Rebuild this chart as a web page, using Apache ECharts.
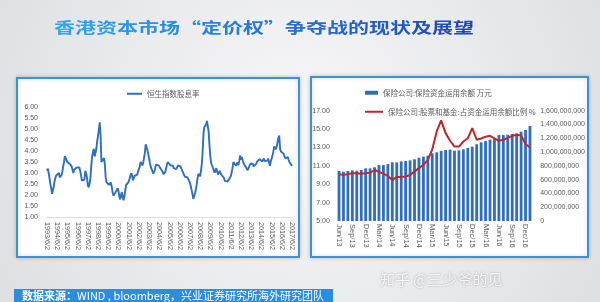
<!DOCTYPE html>
<html><head><meta charset="utf-8">
<script src="https://cdn.jsdelivr.net/npm/echarts@6/dist/echarts.min.js"></script>
<style>html,body{margin:0;padding:0;width:600px;height:302px;overflow:hidden}#c{width:600px;height:302px}</style>
</head><body><div id="c"></div><script>
// 恒生指数股息率 (%), monthly, 1993/6 – 2017/6
const hsiYield = [
  3.1, 3.2, 3.0, 2.75, 2.5, 2.3, 2.05, 2.1, 2.4, 2.65,
  2.8, 2.9, 2.85, 2.85, 3.0, 2.8, 2.8, 2.9, 3.05, 3.3,
  3.5, 3.77, 3.67, 3.75, 3.5, 3.45, 3.45, 3.4, 3.35, 3.3,
  3.15, 3.0, 3.15, 3.17, 3.2, 3.25, 3.27, 3.3, 3.25, 3.1,
  2.9, 2.65, 2.6, 2.6, 2.7, 3.1, 3.0, 2.8, 2.45, 2.35,
  2.5, 2.75, 3.3, 3.75, 3.8, 4.1, 3.75, 3.68, 4.1, 4.45,
  4.7, 5.0, 5.3, 4.7, 3.5, 3.45, 3.58, 3.68, 3.4, 2.8,
  2.58, 2.52, 2.52, 2.46, 2.5, 2.57, 2.4, 2.15, 1.97, 1.95,
  2.08, 2.0, 2.15, 2.3, 2.2, 1.93, 1.8, 2.0, 2.13, 1.9,
  1.76, 1.95, 2.2, 2.45, 2.5, 2.46, 2.6, 2.73, 2.88, 2.98,
  2.88, 2.67, 2.77, 2.87, 2.88, 2.87, 2.93, 3.05, 3.18, 3.28,
  3.5, 3.45, 3.35, 3.45, 3.45, 3.9, 4.3, 4.3, 4.05, 3.85,
  3.66, 3.46, 3.28, 3.18, 3.08, 2.97, 2.95, 3.17, 3.38, 3.45,
  3.42, 3.35, 3.29, 3.24, 3.15, 3.2, 3.05, 2.95,
  2.95, 3.05, 3.2, 3.4, 3.5, 3.45, 3.42, 3.35, 3.28, 3.4,
  3.33, 3.22, 3.2, 3.28, 3.18, 3.23, 3.35, 3.43, 3.4, 3.3,
  3.2, 3.12, 3.02, 2.93, 2.84, 2.77, 2.77, 2.8, 2.79, 2.72,
  2.56, 2.4, 2.22, 2.04, 1.82, 1.88, 2.08, 2.25, 2.48, 2.78,
  2.96, 2.87, 2.85, 3.1, 3.43, 4.0, 4.8, 5.1, 5.13, 5.2,
  5.37, 5.4, 4.88, 4.25, 3.75, 3.45, 3.34, 3.35, 3.13, 3.01,
  3.12, 3.22, 3.13, 2.93, 2.86, 3.1, 3.02, 2.92, 2.96, 2.89,
  2.78, 2.64, 2.6, 2.62, 2.61, 2.64, 2.72, 2.81, 2.85, 2.9,
  3.2, 3.5, 3.55, 3.45, 3.33, 3.27, 3.48, 3.35, 3.55, 3.8,
  3.6, 3.73, 3.58, 3.45, 3.37, 3.32, 3.39, 3.26, 3.13, 3.2,
  3.32, 3.42, 3.46, 3.49, 3.42, 3.3, 3.27, 3.35, 3.42, 3.52,
  3.6, 3.52, 3.63, 3.64, 3.56, 3.52, 3.6, 3.66, 3.54, 3.62,
  3.6, 3.56, 3.66, 3.58, 3.33, 3.52, 3.65, 3.78, 3.95, 4.2,
  4.27, 4.08, 4.2, 4.4, 4.6, 4.7, 4.1, 3.98, 3.92, 3.94,
  3.88, 3.78, 3.67, 3.6, 3.72, 3.72, 3.6, 3.5, 3.48, 3.44, 3.32
];
// month categories for the dividend-yield series, starting 1993/6/2
const hsiStart = { year: 1993, month: 6 };
const hsiDates = hsiYield.map((_, i) => {
  const k = hsiStart.month - 1 + i;
  return (hsiStart.year + Math.floor(k / 12)) + '/' + (k % 12 + 1) + '/2';
});

// insurance funds, monthly Jun/13 – Jan/17
const insMonths = [
  'Jun/13','Jul/13','Aug/13','Sep/13','Oct/13','Nov/13','Dec/13',
  'Jan/14','Feb/14','Mar/14','Apr/14','May/14','Jun/14','Jul/14','Aug/14','Sep/14','Oct/14','Nov/14','Dec/14',
  'Jan/15','Feb/15','Mar/15','Apr/15','May/15','Jun/15','Jul/15','Aug/15','Sep/15','Oct/15','Nov/15','Dec/15',
  'Jan/16','Feb/16','Mar/16','Apr/16','May/16','Jun/16','Jul/16','Aug/16','Sep/16','Oct/16','Nov/16','Dec/16',
  'Jan/17'
];
// 保险资金运用余额 (万元)
const insBalance = [
  725000000, 715000000, 725000000, 735000000, 730000000, 740000000, 764000000, 764000000, 779000000, 812000000,
  812000000, 827000000, 851000000, 851000000, 865000000, 870000000, 880000000, 895000000, 918000000, 933000000,
  947000000, 982000000, 996000000, 1015000000, 1030000000, 1035000000, 1020000000, 1025000000, 1040000000, 1060000000,
  1078000000, 1113000000, 1142000000, 1160000000, 1180000000, 1194000000, 1247000000, 1247000000, 1252000000, 1262000000,
  1272000000, 1296000000, 1320000000, 1378000000
];
// 股票和基金占资金运用余额比例 (%)
const insEquityRatio = [
  10.1, 10.0, 10.1, 10.2, 10.2, 10.15, 10.2, 10.25, 10.55, 10.35,
  10.15, 9.9, 9.45, 9.8, 9.8, 9.85, 10.0, 10.4, 10.75, 11.1,
  11.65, 12.8, 14.74, 15.94, 14.56, 13.73, 13.1, 13.1, 13.65, 14.0,
  15.1, 13.84, 13.98, 14.16, 14.27, 14.0, 13.73, 13.84, 14.05, 14.27,
  14.38, 14.3, 13.37, 13.0
];

const NAME_HSI = '恒生指数股息率';
const NAME_BAL = '保险公司:保险资金运用余额 万元';
const NAME_RATIO = '保险公司:股票和基金:占资金运用余额比例 %';
const TITLE = '香港资本市场“定价权”争夺战的现状及展望';

const FONT = '"Noto Sans CJK SC", "Noto Sans", sans-serif';
const NUMFONT = '"Liberation Sans", "Noto Sans CJK SC", sans-serif';
const grey = '#595959';

const withCommas = v => String(v).replace(/\B(?=(\d{3})+(?!\d))/g, ',');

// heading shades from light blue on the left to deep blue on the right
function mix(a, b, t) {
  const pa = a.match(/\w\w/g).map(h => parseInt(h, 16));
  const pb = b.match(/\w\w/g).map(h => parseInt(h, 16));
  return 'rgb(' + pa.map((v, i) => Math.round(v + (pb[i] - v) * t)).join(',') + ')';
}
const titleChars = Array.from(TITLE);
const titleRich = {};
titleChars.forEach((ch, i) => {
  titleRich['c' + i] = { fill: mix('#2aa6f2', '#2348b4', i / (titleChars.length - 1)),
    fontSize: 15, fontWeight: 'bold', fontFamily: FONT };
});
const titleText = titleChars.map((ch, i) => '{c' + i + '|' + ch + '}').join('');

const chart = echarts.init(document.getElementById('c'), null, { renderer: 'canvas' });
chart.setOption({
  animation: false,
  backgroundColor: {
    type: 'radial', x: 0.5, y: 0.45, r: 1.1,
    colorStops: [{ offset: 0, color: '#f8f8f9' }, { offset: 1, color: '#dfe0e2' }]
  },
  graphic: [
    { type: 'rect', z: -10, shape: { x: 17, y: 78, width: 282, height: 179 },
      style: { fill: '#ffffff', stroke: '#3a92de', lineWidth: 2, shadowBlur: 4, shadowColor: 'rgba(0,0,0,0.18)' } },
    { type: 'rect', z: -10, shape: { x: 311, y: 77, width: 277, height: 180 },
      style: { fill: '#ffffff', stroke: '#3a92de', lineWidth: 2, shadowBlur: 4, shadowColor: 'rgba(0,0,0,0.18)' } },
    { type: 'text', x: 264, y: 27, scaleX: 1.4,
      style: { text: titleText, rich: titleRich, font: 'bold 15px ' + FONT,
        textAlign: 'center', textVerticalAlign: 'middle', fill: '#2a78d8' } },
    { type: 'rect', shape: { x: 14, y: 289, width: 319, height: 13 }, style: { fill: '#2b8de0' } },
    { type: 'text', x: 22, y: 296,
      style: { text: '{b|数据来源：}WIND , bloomberg，兴业证券研究所海外研究团队',
        font: '11px ' + FONT, fill: '#ffffff', textVerticalAlign: 'middle',
        rich: { b: { fontWeight: 'bold', fontSize: 11, fontFamily: FONT, fill: '#ffffff' } } } },
    { type: 'text', x: 380, y: 279,
      style: { text: '知乎 @三少爷的见', font: '15px ' + FONT, fill: '#f7f7f8',
        textVerticalAlign: 'middle', textShadowColor: 'rgba(0,0,0,0.35)', textShadowBlur: 2 } }
  ],
  legend: [
    { data: [NAME_HSI], left: 122, top: 85, icon: 'rect', itemWidth: 15, itemHeight: 2,
      textStyle: { fontSize: 7.5, color: grey, fontFamily: FONT } },
    { data: [NAME_BAL], left: 360, top: 84, icon: 'rect', itemWidth: 13, itemHeight: 4,
      textStyle: { fontSize: 7.5, color: grey, fontFamily: FONT } },
    { data: [NAME_RATIO], left: 360, top: 103, icon: 'rect', itemWidth: 18, itemHeight: 2,
      textStyle: { fontSize: 7.5, color: grey, fontFamily: FONT } }
  ],
  grid: [
    { left: 47, right: 308, top: 107, bottom: 85 },
    { left: 336.8, right: 67.8, top: 110.7, bottom: 81 }
  ],
  xAxis: [
    { type: 'category', gridIndex: 0, data: hsiDates, boundaryGap: false,
      axisLine: { lineStyle: { color: '#e0e0e0' } }, axisTick: { show: false },
      axisLabel: { interval: 11, rotate: -90, margin: 5, fontSize: 7.2, color: grey, fontFamily: NUMFONT } },
    { type: 'category', gridIndex: 1, data: insMonths, boundaryGap: true,
      axisLine: { show: false }, axisTick: { show: false },
      axisLabel: { interval: 2, rotate: -90, margin: 3, fontSize: 7.5, color: grey, fontFamily: NUMFONT } }
  ],
  yAxis: [
    { type: 'value', gridIndex: 0, min: 1, max: 6, interval: 0.5,
      axisLine: { show: false }, axisTick: { show: false }, splitLine: { show: false },
      axisLabel: { margin: 9, fontSize: 7, color: grey, fontFamily: NUMFONT, formatter: v => v.toFixed(2) } },
    { type: 'value', gridIndex: 1, position: 'left', min: 5, max: 17, interval: 2,
      axisLine: { show: false }, axisTick: { show: false }, splitLine: { show: false },
      axisLabel: { margin: 7, fontSize: 7, color: grey, fontFamily: NUMFONT, formatter: v => v.toFixed(2) } },
    { type: 'value', gridIndex: 1, position: 'right', min: 0, max: 1600000000, interval: 200000000,
      axisLine: { show: false }, axisTick: { show: false }, splitLine: { show: false },
      axisLabel: { margin: 8, fontSize: 7, color: grey, fontFamily: NUMFONT, formatter: withCommas } }
  ],
  series: [
    { name: NAME_HSI, type: 'line', xAxisIndex: 0, yAxisIndex: 0, data: hsiYield,
      showSymbol: false, lineStyle: { color: '#2e6fc2', width: 1.9 }, itemStyle: { color: '#2e6fc2' } },
    { name: NAME_BAL, type: 'bar', xAxisIndex: 1, yAxisIndex: 2, data: insBalance,
      barWidth: 2.8, itemStyle: { color: '#2f6dbd' } },
    { name: NAME_RATIO, type: 'line', xAxisIndex: 1, yAxisIndex: 1, data: insEquityRatio,
      showSymbol: false, lineStyle: { color: '#c0272d', width: 2 }, itemStyle: { color: '#c0272d' } }
  ]
});
</script></body></html>
